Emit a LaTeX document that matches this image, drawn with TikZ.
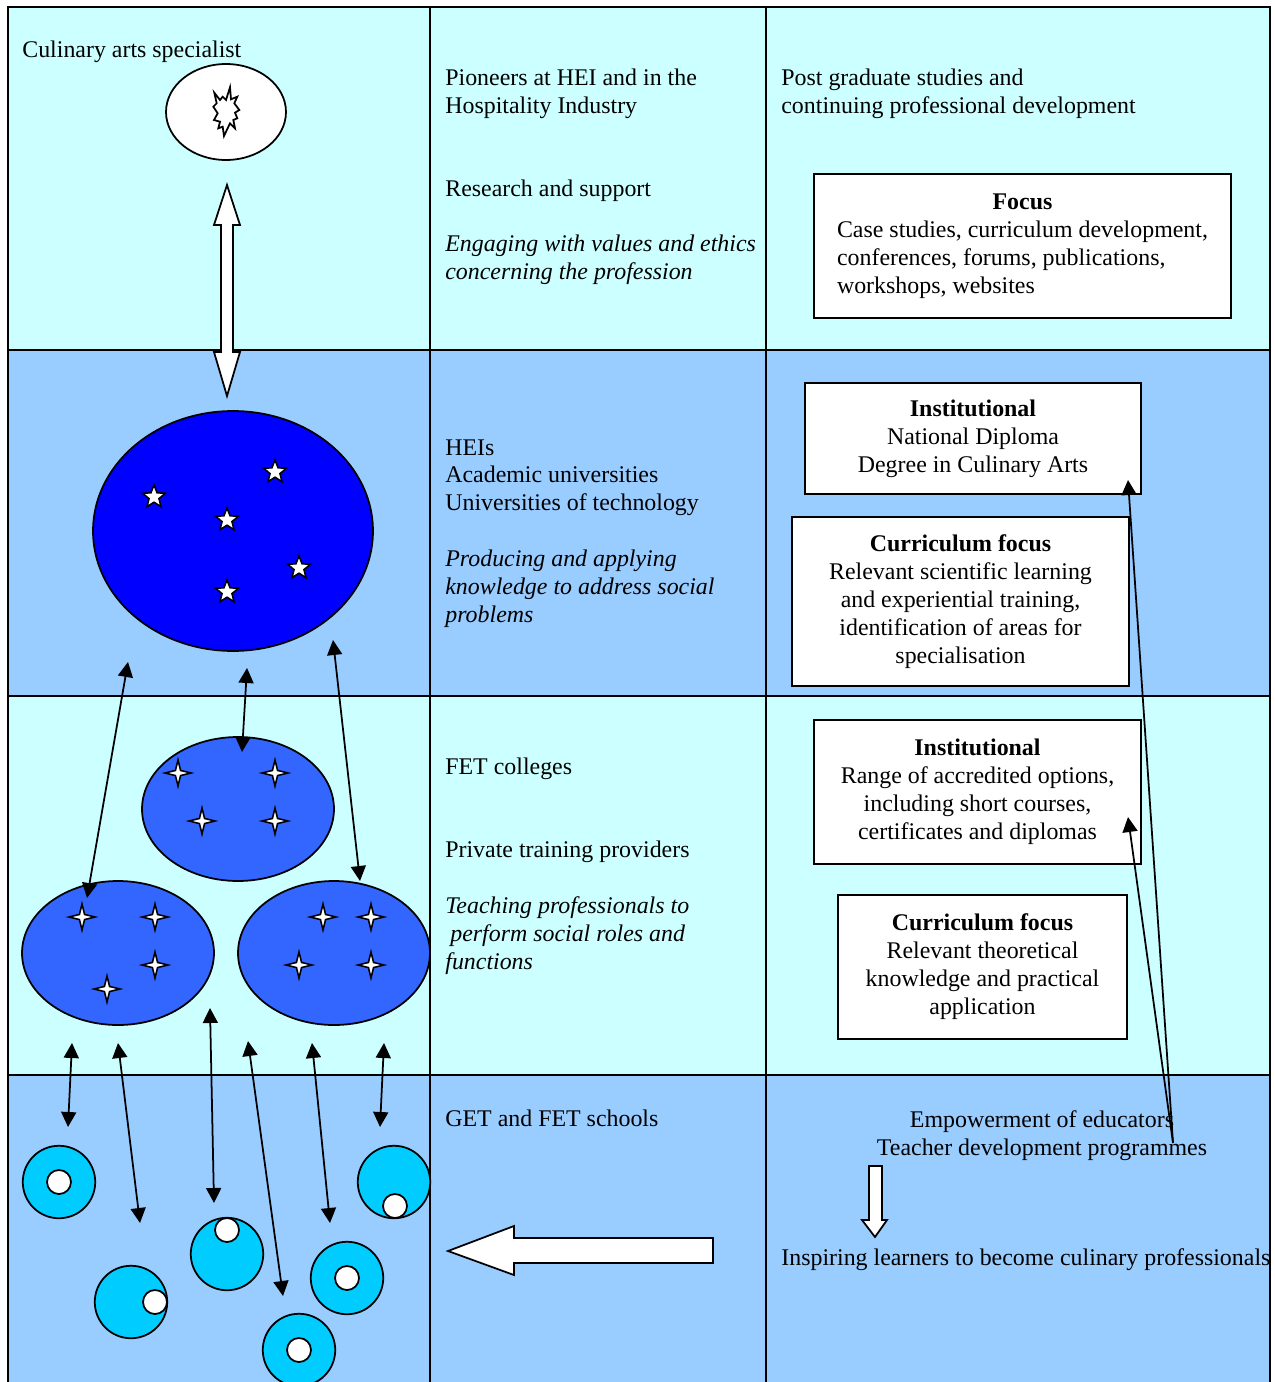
\documentclass[tikz,border=0pt]{standalone}
\usepackage{fontspec}
\setmainfont{Liberation Serif}
\usetikzlibrary{shapes.geometric,arrows.meta}

\definecolor{paleband}{HTML}{CCFFFF}
\definecolor{skyband}{HTML}{99CCFF}
\definecolor{heiblue}{HTML}{0000FF}
\definecolor{fetblue}{HTML}{3366FF}
\definecolor{schoolblue}{HTML}{00CCFF}

\newcommand{\bodyfont}{\fontsize{13.6}{15.9}\selectfont}

\tikzset{
  >={Triangle[length=0.3cm,width=0.3cm]},
  grid/.style={line width=1.1pt},
  lbl/.style={anchor=north west, inner sep=0pt, align=left, font=\bodyfont},
  infobox/.style={draw, fill=white, line width=1pt, inner sep=0pt, align=center, font=\bodyfont},
  blob/.style={ellipse, draw, line width=1pt, inner sep=0pt},
  fivestar/.style={star, star points=5, star point ratio=2.3, draw, fill=white, line width=0.9pt, minimum size=0.48cm, inner sep=0pt},
  fourstar/.style={star, star points=4, star point ratio=3.6, draw, fill=white, line width=0.9pt, minimum size=0.52cm, inner sep=0pt},
  school/.style={circle, draw, fill=schoolblue, line width=1pt, minimum size=1.45cm, inner sep=0pt},
  pupil/.style={circle, draw, fill=white, line width=1pt, minimum size=0.48cm, inner sep=0pt},
  link/.style={line width=1pt, <->},
  blockarrow/.style={draw, fill=white, line width=1pt, line join=miter}
}

\begin{document}
\begin{tikzpicture}[x=0.02cm,y=-0.02cm]
\useasboundingbox (0,0) rectangle (1274,1382);
\clip (0,0) rectangle (1274,1382);

% row bands
\fill[paleband] (8,7) rectangle (1270,350);
\fill[skyband] (8,350) rectangle (1270,696);
\fill[paleband] (8,696) rectangle (1270,1075);
\fill[skyband] (8,1075) rectangle (1270,1390);

% table lines
\draw[grid] (8,1390) -- (8,7) -- (1270,7) -- (1270,1390);
\foreach \x in {430,766} \draw[grid] (\x,7) -- (\x,1390);
\foreach \y in {350,696,1075} \draw[grid] (8,\y) -- (1270,\y);

% specialist
\node[lbl] (chef) at (22,41) {Culinary arts specialist};
\node[blob, fill=white, minimum width=2.4cm, minimum height=1.92cm] (spec) at (226,112) {};
\draw[blockarrow] (214.3,92.7) -- (220,100) -- (222.7,96.7) -- (226,100) -- (230,87.3)
  -- (231,99.3) -- (237.3,96.7) -- (234.3,103.3) -- (239.3,110) -- (235,112.7)
  -- (237.3,118.3) -- (233.3,120) -- (235,128.3) -- (230,123.3) -- (224,136)
  -- (222.7,126.7) -- (218.3,128.3) -- (220,121.7) -- (214,120) -- (217.7,113.3)
  -- (213.3,106.7) -- (216.7,103.3) -- cycle;

% two way block arrow
\draw[blockarrow] (227,185) -- (240,225) -- (233,225) -- (233,352) -- (240,352)
  -- (227,396) -- (214,352) -- (221,352) -- (221,225) -- (214,225) -- cycle;

% HEIs
\node[blob, fill=heiblue, minimum width=5.6cm, minimum height=4.8cm] (hei) at (233,531) {};
\foreach \p [count=\i] in {(154,497),(275,472),(227,520),(299,568),(227,592)}
  \node[fivestar] (hstar\i) at \p {};

% FET colleges
\node[blob, fill=fetblue, minimum width=3.84cm, minimum height=2.88cm] (fettop) at (238,809) {};
\node[blob, fill=fetblue, minimum width=3.84cm, minimum height=2.88cm] (fetleft) at (118,953) {};
\node[blob, fill=fetblue, minimum width=3.84cm, minimum height=2.88cm] (fetright) at (334,953) {};
\foreach \p [count=\i] in {(178,773),(275,773),(202,821),(275,821),
    (82,917),(155,917),(155,965),(107,989),
    (323,917),(371,917),(299,965),(371,965)}
  \node[fourstar] (fstar\i) at \p {};

% schools
\node[school] (school1) at (59,1182) {};
\node[pupil] (pupil1) at (59,1182) {};
\node[school] (school2) at (131,1302) {};
\node[pupil] (pupil2) at (155,1302) {};
\node[school] (school3) at (227,1254) {};
\node[pupil] (pupil3) at (227,1230) {};
\node[school] (school4) at (394,1182) {};
\node[pupil] (pupil4) at (395,1206) {};
\node[school] (school5) at (347,1278) {};
\node[pupil] (pupil5) at (347,1278) {};
\node[school] (school6) at (299,1350) {};
\node[pupil] (pupil6) at (299,1350) {};

% links between levels
\foreach \ux/\uy/\dx/\dy [count=\i] in {128/662/87/898, 247/668/242/752, 333/640/360/881,
    72/1043/68/1127, 118/1043/140/1223, 210/1008/214/1203,
    248/1041/283/1296, 312/1043/330/1223, 384/1043/380/1127} {
  \coordinate (up\i) at (\ux,\uy);
  \coordinate (dn\i) at (\dx,\dy);
  \draw[link] (up\i) -- (dn\i);
}

% middle column
\node[lbl] (pioneers) at (445,69) {Pioneers at HEI and in the\\Hospitality Industry};
\node[lbl] (research) at (445,180) {Research and support};
\node[lbl, font=\bodyfont\itshape] (ethics) at (445,235) {Engaging with values and ethics\\concerning the profession};
\node[lbl] (heis) at (445,439) {HEIs\\Academic universities\\Universities of technology};
\node[lbl, font=\bodyfont\itshape] (knowledge) at (445,550) {Producing and applying\\knowledge to address social\\problems};
\node[lbl] (fet) at (445,758) {FET colleges};
\node[lbl] (private) at (445,841) {Private training providers};
\node[lbl, font=\bodyfont\itshape] (teaching) at (445,896) {Teaching professionals to\\\hspace*{0.1cm}perform social roles and\\functions};
\node[lbl] (get) at (445,1110) {GET and FET schools};
\draw[blockarrow] (448,1251) -- (514,1226) -- (514,1238) -- (713,1238) -- (713,1263)
  -- (514,1263) -- (514,1275) -- cycle;

% right column
\node[lbl] (postgrad) at (781,69) {Post graduate studies and\\continuing professional development};
\node[infobox, minimum width=8.34cm, minimum height=2.88cm] (focus) at (1022.5,246)
  {\begin{tabular}{@{}l@{}}\multicolumn{1}{@{}c@{}}{\textbf{Focus}}\\
   Case studies, curriculum development,\\conferences, forums, publications,\\workshops, websites\end{tabular}};
\node[infobox, minimum width=6.72cm, minimum height=2.22cm] (inst2) at (973,438.5)
  {\textbf{Institutional}\\National Diploma\\Degree in Culinary Arts};
\node[infobox, minimum width=6.74cm, minimum height=3.38cm] (curr2) at (960.5,601.5)
  {\textbf{Curriculum focus}\\Relevant scientific learning\\and experiential training,\\identification of areas for\\specialisation};
\node[infobox, minimum width=6.54cm, minimum height=2.88cm] (inst3) at (977.5,792)
  {\textbf{Institutional}\\Range of accredited options,\\including short courses,\\certificates and diplomas};
\node[infobox, minimum width=5.78cm, minimum height=2.88cm] (curr3) at (982.5,967)
  {\textbf{Curriculum focus}\\Relevant theoretical\\knowledge and practical\\application};
\node[anchor=north, inner sep=0pt, align=center, font=\bodyfont] (educators) at (1042,1110)
  {Empowerment of educators\\Teacher development programmes};
\draw[blockarrow] (869,1166) -- (882,1166) -- (882,1220) -- (887,1220) -- (875,1237)
  -- (862,1220) -- (869,1220) -- cycle;
\node[lbl] (inspire) at (781,1248) {Inspiring learners to become culinary professionals};

% teacher development feeds both institutional levels
\coordinate (tdp) at (1173,1143);
\coordinate (inst2tip) at (1128,480);
\coordinate (inst3tip) at (1128,817);
\draw[line width=1pt, ->] (tdp) -- (inst2tip);
\draw[line width=1pt, ->] (tdp) -- (inst3tip);
\end{tikzpicture}
\end{document}
